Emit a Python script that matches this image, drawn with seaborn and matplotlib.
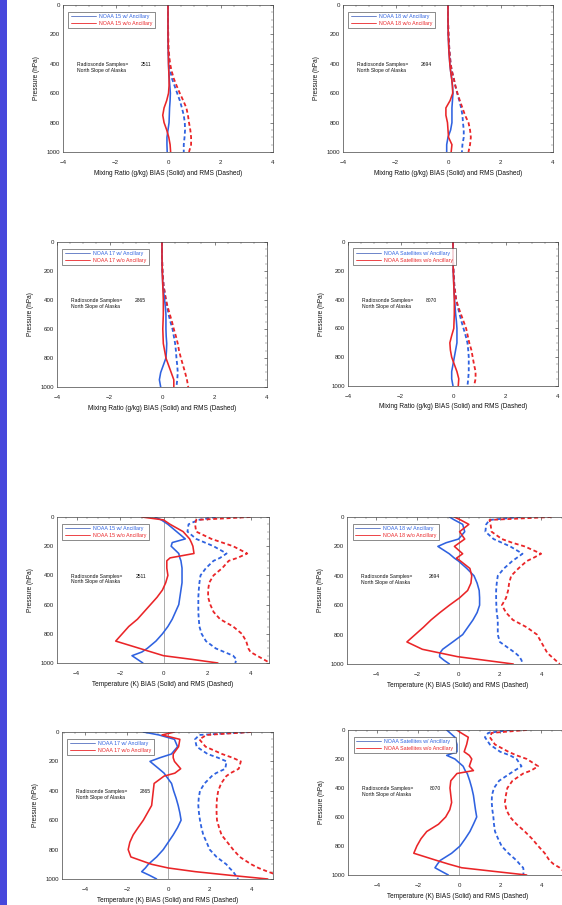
import matplotlib
matplotlib.use("Agg")
import matplotlib.pyplot as plt
import seaborn as sns
import numpy as np
from matplotlib.lines import Line2D
from matplotlib.patches import Rectangle
from matplotlib.ticker import AutoMinorLocator

sns.set_theme(style="white")
plt.rcParams['font.family'] = ['Liberation Sans', 'DejaVu Sans']

BLUE = '#2f62e0'
RED = '#ea2528'

# ---------------- data ----------------
P_MR = [0, 100, 200, 300, 400, 450, 500, 550, 600, 650, 700, 750, 800, 850, 900, 950, 1000]

mr15_bias_w = [0, 0, 0, 0.01, 0.02, 0.03, 0.05, 0.07, 0.09, 0.08, 0.06, 0.05, 0.04, 0.0, -0.04, -0.04, -0.03]
mr15_bias_wo = [0, 0, 0, 0.01, 0.02, 0.03, 0.04, 0.04, 0.02, -0.05, -0.15, -0.2, -0.15, -0.05, 0.03, 0.08, 0.1]
mr15_rms_w = [0, 0, 0, 0.01, 0.05, 0.09, 0.15, 0.25, 0.35, 0.45, 0.53, 0.6, 0.64, 0.65, 0.63, 0.6, 0.6]
mr15_rms_wo = [0, 0, 0.01, 0.02, 0.08, 0.14, 0.22, 0.33, 0.45, 0.58, 0.7, 0.76, 0.8, 0.85, 0.88, 0.88, 0.8]

mr18_bias_w = [0, 0, 0.01, 0.03, 0.07, 0.1, 0.14, 0.17, 0.19, 0.17, 0.15, 0.15, 0.15, 0.1, 0.0, -0.05, -0.05]
mr18_bias_wo = [0, 0, 0.01, 0.03, 0.07, 0.1, 0.14, 0.17, 0.18, 0.08, -0.08, -0.08, -0.02, 0.0, 0.02, 0.15, 0.12]
mr18_rms_w = [0, 0, 0.02, 0.05, 0.1, 0.15, 0.22, 0.28, 0.35, 0.43, 0.5, 0.55, 0.57, 0.6, 0.6, 0.55, 0.53]
mr18_rms_wo = [0, 0, 0.02, 0.05, 0.1, 0.15, 0.22, 0.28, 0.36, 0.45, 0.55, 0.65, 0.78, 0.84, 0.87, 0.84, 0.78]

mr17_bias_w = [0, 0, 0.01, 0.03, 0.1, 0.13, 0.15, 0.15, 0.15, 0.16, 0.18, 0.17, 0.15, 0.05, -0.05, -0.1, -0.05]
mr17_bias_wo = [0, 0, 0.01, 0.03, 0.05, 0.05, 0.05, 0.04, 0.03, 0.04, 0.05, 0.1, 0.15, 0.25, 0.35, 0.45, 0.45]
mr17_rms_w = [0, 0, 0.02, 0.06, 0.15, 0.2, 0.25, 0.32, 0.4, 0.45, 0.5, 0.53, 0.55, 0.58, 0.6, 0.58, 0.55]
mr17_rms_wo = [0, 0, 0.02, 0.06, 0.15, 0.22, 0.3, 0.38, 0.45, 0.53, 0.6, 0.65, 0.72, 0.8, 0.88, 0.95, 1.0]

mrsat_bias_w = [0, 0, 0.01, 0.03, 0.06, 0.08, 0.1, 0.13, 0.15, 0.15, 0.15, 0.1, 0.05, 0.0, -0.05, -0.05, 0.0]
mrsat_bias_wo = [0, 0, 0.01, 0.03, 0.05, 0.05, 0.05, 0.04, 0.03, -0.05, -0.12, -0.1, -0.05, 0.05, 0.15, 0.22, 0.2]
mrsat_rms_w = [0, 0, 0.02, 0.05, 0.12, 0.18, 0.25, 0.32, 0.4, 0.48, 0.55, 0.58, 0.6, 0.6, 0.6, 0.58, 0.55]
mrsat_rms_wo = [0, 0, 0.02, 0.05, 0.12, 0.2, 0.3, 0.4, 0.5, 0.56, 0.62, 0.7, 0.75, 0.8, 0.86, 0.86, 0.8]

P_T = [0, 20, 50, 100, 150, 175, 200, 250, 280, 300, 350, 400, 450, 500, 550, 600,
       650, 700, 750, 800, 850, 900, 925, 950, 975, 1000]

t15_bias_w = [-0.4, -0.1, 0.2, 0.6, 1.0, 0.4, 0.35, 0.7, 0.75, 0.8, 0.85, 0.85, 0.85, 0.8, 0.75, 0.7,
              0.55, 0.4, 0.2, -0.05, -0.35, -0.75, -1.0, -1.45, -1.2, -0.95]
t15_bias_wo = [-1.0, 0.0, 0.3, 0.9, 1.2, 1.28, 1.35, 1.4, 0.3, 0.15, 0.15, 0.2, 0.1, -0.05, -0.3, -0.6,
               -0.9, -1.2, -1.6, -1.9, -2.2, -1.1, -0.55, 0.0, 1.3, 2.5]
t15_rms_w = [2.4, 1.6, 1.15, 1.1, 1.5, 1.9, 2.3, 2.9, 2.6, 2.3, 1.95, 1.7, 1.65, 1.62, 1.6, 1.6,
             1.6, 1.62, 1.65, 1.75, 1.95, 2.4, 2.8, 3.2, 3.35, 3.3]
t15_rms_wo = [4.0, 1.5, 1.45, 1.5, 2.2, 2.7, 3.2, 3.85, 3.4, 3.0, 2.7, 2.3, 2.1, 2.05, 2.05, 2.15,
              2.3, 2.6, 3.2, 3.6, 3.8, 3.9, 4.0, 4.3, 4.6, 4.9]

t18_bias_w = [-0.44, -0.2, 0.2, 0.3, 0.0, -0.6, -1.0, -0.45, -0.2, 0.0, 0.4, 0.75, 0.9, 1.0, 1.02, 1.02,
              0.9, 0.7, 0.45, 0.2, -0.28, -0.77, -0.9, -0.92, -0.7, -0.44]
t18_bias_wo = [-0.2, 0.1, 0.5, 0.05, 0.3, 0.05, -0.2, 0.2, -0.1, 0.1, 0.55, 0.64, 0.6, 0.44, 0.05, -0.44,
               -0.9, -1.33, -1.7, -2.1, -2.5, -1.75, -0.9, -0.05, 1.3, 2.65]
t18_rms_w = [3.0, 1.5, 1.34, 1.3, 1.7, 2.1, 2.5, 3.1, 2.8, 2.6, 2.2, 1.9, 1.85, 1.82, 1.82, 1.83,
             1.85, 1.9, 1.9, 1.9, 2.0, 2.5, 2.75, 2.95, 3.05, 3.1]
t18_rms_wo = [4.5, 1.5, 1.55, 1.6, 2.1, 2.6, 3.2, 4.0, 3.6, 3.3, 2.9, 2.55, 2.45, 2.4, 2.3, 2.1,
              2.3, 2.63, 3.3, 3.8, 4.0, 4.2, 4.3, 4.5, 4.7, 4.9]

t17_bias_w = [-1.2, -0.45, 0.3, 0.45, 0.15, -0.4, -0.88, -0.45, -0.2, -0.1, 0.16, 0.26, 0.38, 0.48, 0.56, 0.62,
              0.45, 0.24, 0.0, -0.24, -0.56, -0.96, -1.1, -1.28, -0.9, -0.56]
t17_bias_wo = [0.3, -0.3, 0.56, 0.5, 0.24, 0.24, 0.3, 0.6, 0.32, -0.2, -0.68, -0.72, -0.76, -0.8, -1.0, -1.2,
               -1.45, -1.69, -1.85, -1.93, -1.8, -0.8, 0.0, 1.3, 3.0, 4.8]
t17_rms_w = [3.95, 1.5, 1.29, 1.37, 1.9, 2.4, 2.81, 2.75, 2.3, 2.1, 1.75, 1.53, 1.47, 1.45, 1.48, 1.53,
             1.6, 1.69, 1.85, 2.0, 2.33, 2.8, 2.95, 3.13, 3.25, 3.37]
t17_rms_wo = [4.0, 1.85, 1.5, 1.8, 2.6, 3.1, 3.5, 3.4, 3.0, 2.8, 2.55, 2.41, 2.35, 2.33, 2.33, 2.35,
              2.45, 2.57, 2.85, 3.13, 3.45, 4.0, 4.35, 4.8, 5.3, 5.6]

tsat_bias_w = [-0.6, -0.44, -0.2, -0.1, -0.1, -0.6, -0.2, 0.2, 0.3, 0.4, 0.52, 0.62, 0.7, 0.75, 0.8, 0.86,
               0.7, 0.53, 0.3, 0.05, -0.36, -0.92, -1.05, -1.17, -0.85, -0.52]
tsat_bias_wo = [-0.11, 0.1, 0.45, 0.37, 0.25, 0.5, 0.62, 0.5, 0.7, -0.1, -0.4, -0.44, -0.4, -0.36, -0.45, -0.65,
                -1.0, -1.57, -1.85, -2.05, -2.2, -1.08, -0.5, 0.13, 1.7, 3.29]
tsat_rms_w = [2.5, 1.42, 1.26, 1.5, 2.0, 2.48, 2.8, 3.04, 2.7, 2.48, 1.95, 1.7, 1.6, 1.59, 1.62, 1.67,
              1.7, 1.75, 1.9, 2.07, 2.4, 2.8, 2.95, 3.12, 3.15, 3.12]
tsat_rms_wo = [3.3, 1.59, 1.5, 1.75, 2.4, 2.8, 3.3, 3.85, 3.5, 3.12, 2.6, 2.35, 2.28, 2.23, 2.3, 2.48,
               2.8, 3.2, 3.55, 3.85, 4.17, 4.4, 4.6, 4.9, 5.1, 5.3]

names = ['NOAA 15', 'NOAA 18', 'NOAA 17', 'NOAA Satellites']
samples = ['2511', '2694', '2865', '8070']
region = 'North Slope of Alaska'
mr_xlabel = 'Mixing Ratio (g/kg) BIAS (Solid) and RMS (Dashed)'
t_xlabel = 'Temperature (K) BIAS (Solid) and RMS (Dashed)'
y_label = 'Pressure (hPa)'
x_ticks_mr = [-4, -2, 0, 2, 4]
x_ticks_t = [-4, -2, 0, 2, 4]
y_ticks = [0, 200, 400, 600, 800, 1000]

mr_sets = [(mr15_bias_w, mr15_bias_wo, mr15_rms_w, mr15_rms_wo),
           (mr18_bias_w, mr18_bias_wo, mr18_rms_w, mr18_rms_wo),
           (mr17_bias_w, mr17_bias_wo, mr17_rms_w, mr17_rms_wo),
           (mrsat_bias_w, mrsat_bias_wo, mrsat_rms_w, mrsat_rms_wo)]
t_sets = [(t15_bias_w, t15_bias_wo, t15_rms_w, t15_rms_wo),
          (t18_bias_w, t18_bias_wo, t18_rms_w, t18_rms_wo),
          (t17_bias_w, t17_bias_wo, t17_rms_w, t17_rms_wo),
          (tsat_bias_w, tsat_bias_wo, tsat_rms_w, tsat_rms_wo)]

# ---------------- layout (pixel boxes) ----------------
W, H = 562, 905
fig = plt.figure(figsize=(W / 100, H / 100), dpi=100)
fig.patch.set_facecolor('white')
fig.patches.append(Rectangle((0, 0), 7 / W, 1, transform=fig.transFigure,
                             facecolor='#4747dc', edgecolor='none', zorder=0))

# (x0, x1, y0, y1, xmin, xmax)
boxes_mr = [(63, 273, 5, 152, -4, 4), (343, 553, 5, 152, -4, 4),
            (57, 267, 242, 387, -4, 4), (348, 558, 242, 386, -4, 4)]
boxes_t = [(57, 269, 517, 663, -4.9, 4.85), (347, 568, 517, 664, -5.4, 5.3),
           (62, 273, 732, 879, -5.12, 5.05), (348, 568, 730, 875, -5.4, 5.3)]


def make_ax(b):
    x0, x1, y0, y1, xmin, xmax = b
    ax = fig.add_axes([x0 / W, 1 - y1 / H, (x1 - x0) / W, (y1 - y0) / H])
    ax.set_xlim(xmin, xmax)
    ax.set_ylim(1000, 0)
    return ax


def style_ax(ax, xticks, xlabel):
    ax.set_xticks(xticks)
    ax.set_yticks(y_ticks)
    ax.xaxis.set_minor_locator(AutoMinorLocator(4))
    ax.yaxis.set_minor_locator(AutoMinorLocator(4))
    ax.tick_params(which='major', direction='in', length=2.2, width=0.4, top=True, right=True,
                   labelsize=4.4, colors='#222222')
    ax.tick_params(axis='x', which='major', pad=5.5)
    ax.tick_params(axis='y', which='major', pad=2.0)
    ax.tick_params(which='minor', direction='in', length=1.1, width=0.3, top=True, right=True,
                   colors='#555555')
    for s in ax.spines.values():
        s.set_linewidth(0.5)
        s.set_color('#444444')
    ax.set_xlabel(xlabel, fontsize=4.7, labelpad=3.5, color='#111111')
    ax.set_ylabel(y_label, fontsize=4.7, labelpad=5.0, color='#111111')
    ax.grid(False)


def draw(ax, p, series, name, nsamp):
    bw, bwo, rw, rwo = series
    dash = (0, (2.2, 1.5))
    sns.lineplot(x=rw, y=p, sort=False, estimator=None, color=BLUE, lw=1.3,
                 linestyle=dash, ax=ax)
    sns.lineplot(x=rwo, y=p, sort=False, estimator=None, color=RED, lw=1.3,
                 linestyle=dash, ax=ax)
    sns.lineplot(x=bw, y=p, sort=False, estimator=None, color=BLUE, lw=1.15, ax=ax)
    sns.lineplot(x=bwo, y=p, sort=False, estimator=None, color=RED, lw=1.15, ax=ax)
    handles = [Line2D([], [], color='#5570c0', lw=0.6), Line2D([], [], color=RED, lw=0.6)]
    labels = [f'{name} w/ Ancillary', f'{name} w/o Ancillary']
    leg = ax.legend(handles, labels, loc='upper left', bbox_to_anchor=(0.025, 0.955),
                    fontsize=3.8, frameon=True, fancybox=False, edgecolor='#333333',
                    handlelength=4.8, handletextpad=0.6, borderpad=0.45, labelspacing=0.35,
                    borderaxespad=0.0, labelcolor=[BLUE, RED])
    leg.get_frame().set_linewidth(0.5)
    ax.text(0.065, 0.595, 'Radiosonde Samples=', transform=ax.transAxes, fontsize=3.6,
            color='#111111', va='center')
    ax.text(0.37, 0.595, nsamp, transform=ax.transAxes, fontsize=3.6, color='#111111', va='center')
    ax.text(0.065, 0.555, region, transform=ax.transAxes, fontsize=3.6, color='#111111', va='center')


for i in range(4):
    ax = make_ax(boxes_mr[i])
    draw(ax, P_MR, mr_sets[i], names[i], samples[i])
    style_ax(ax, x_ticks_mr, mr_xlabel)

for i in range(4):
    ax = make_ax(boxes_t[i])
    ax.axvline(0, color='#8a8a8a', lw=0.5, zorder=1)
    draw(ax, P_T, t_sets[i], names[i], samples[i])
    style_ax(ax, x_ticks_t, t_xlabel)

fig.savefig('out.png', dpi=100, facecolor='white')
